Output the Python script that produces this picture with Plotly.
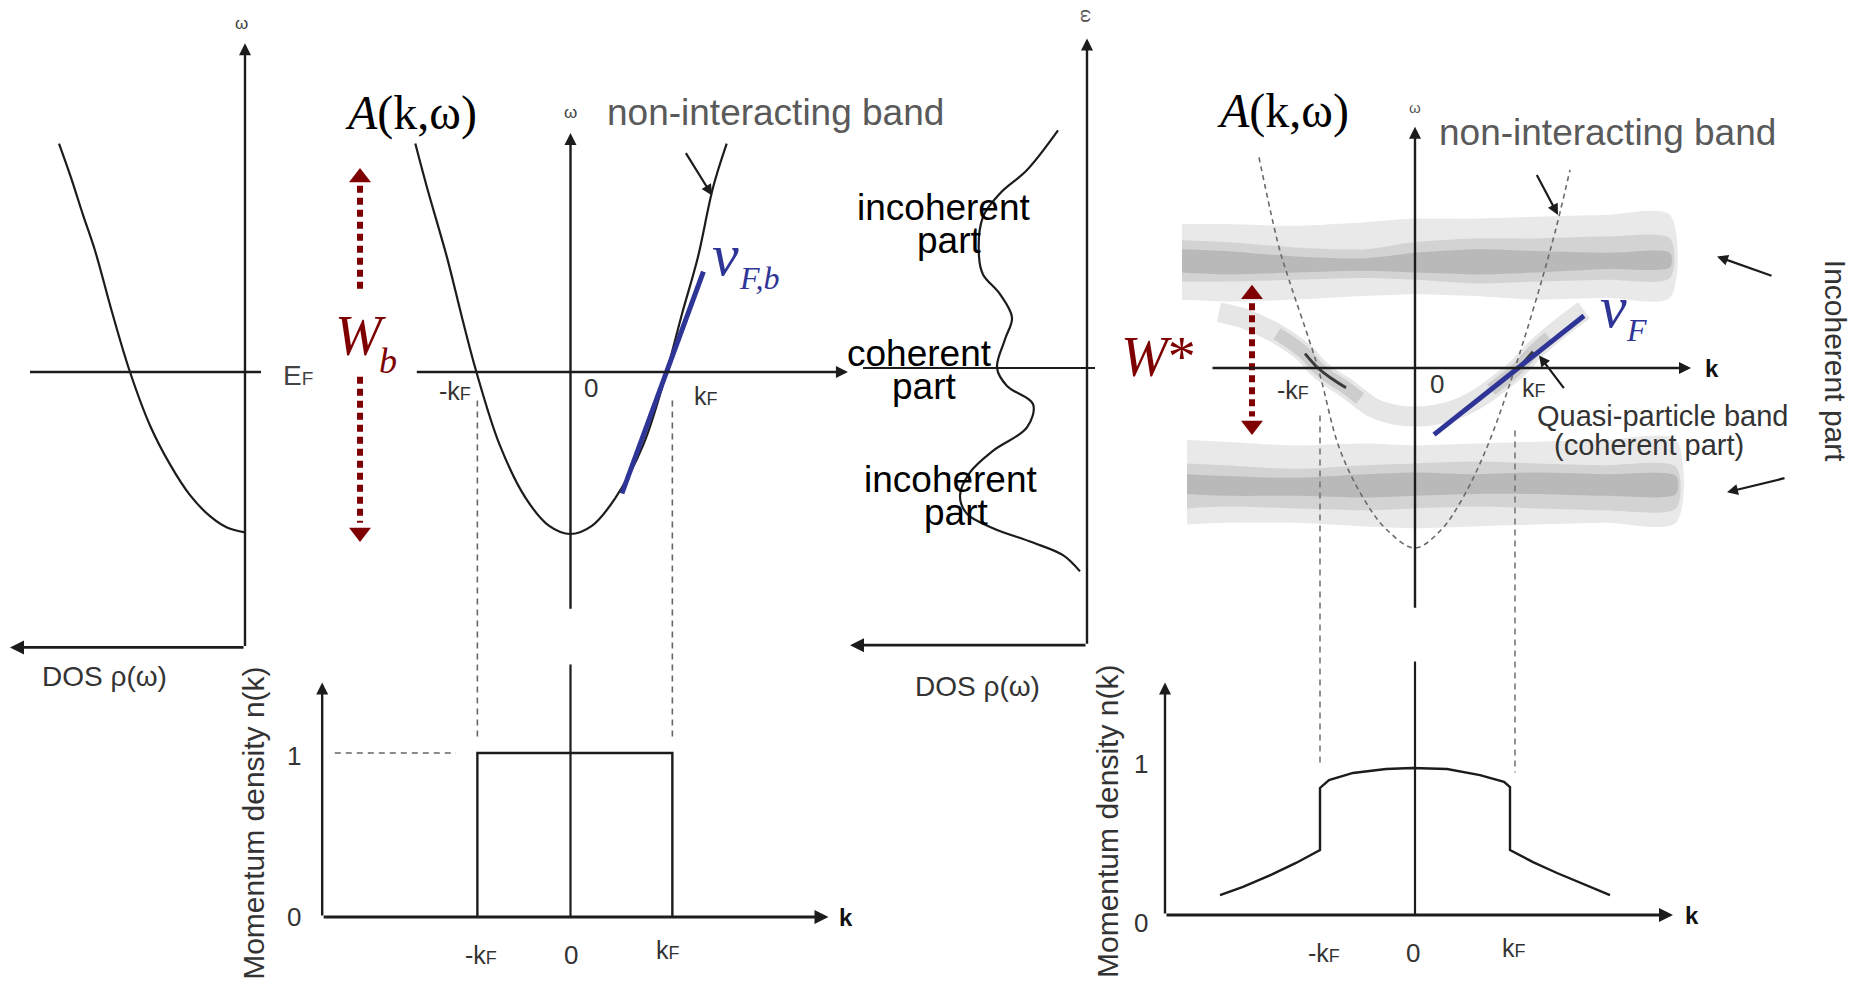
import plotly.graph_objects as go

W, H = 1856, 984

# ------------------------------------------------------------------ data
# Panel A: DOS of the non-interacting band (rho grows to the left), omega
dosA_rho = [1.86, 1.74, 1.62, 1.50, 1.33, 1.15, 0.95, 0.75, 0.55, 0.35, 0.18, 0.0]
dosA_w = [1.41, 1.20, 0.97, 0.75, 0.37, 0.0, -0.33, -0.57, -0.76, -0.89, -0.96, -0.99]

# Panel B: non-interacting band omega(k)
bandB_k = [-1.60, -1.48, -1.27, -1.12, -0.97, -0.73, -0.46, -0.22, 0.0,
           0.22, 0.46, 0.75, 0.99, 1.15, 1.31, 1.47, 1.61]
bandB_w = [1.41, 1.14, 0.70, 0.34, 0.0, -0.45, -0.78, -0.95, -1.0,
           -0.95, -0.78, -0.45, 0.0, 0.36, 0.70, 1.14, 1.41]
vFb_k = [0.53, 1.37]
vFb_w = [-0.75, 0.62]

# Panel C: interacting DOS (rho grows to the left), omega
dosC_rho = [0.29, 0.60, 0.87, 1.04, 1.08, 1.04, 0.87, 0.75, 0.82, 0.90, 0.80, 0.54,
            0.60, 0.94, 1.17, 1.27, 1.20, 0.94, 0.54, 0.24, 0.07]
dosC_w = [1.32, 1.10, 0.97, 0.84, 0.62, 0.52, 0.41, 0.28, 0.16, 0.0, -0.10, -0.20,
          -0.33, -0.46, -0.58, -0.71, -0.81, -0.89, -0.97, -1.04, -1.13]

# Panel D: non-interacting band (dashed)
bandD_k = [-1.56, -1.36, -1.26, -0.97, -0.76, -0.52, -0.28, 0.0, 0.26, 0.48, 0.72, 1.0, 1.36, 1.55]
bandD_w = [1.17, 0.67, 0.49, 0.0, -0.44, -0.72, -0.90, -1.0, -0.90, -0.72, -0.44, 0.0, 0.67, 1.10]

# Panel D: quasi-particle (coherent) band centre line
qp_k = [-1.96, -1.74, -1.52, -1.38, -1.24, -1.10, -0.97, -0.83, -0.69, -0.55, -0.42, -0.20,
        0.0, 0.20, 0.41, 0.60, 0.76, 0.90, 1.03, 1.18, 1.34, 1.52, 1.69]
qp_w = [0.31, 0.28, 0.23, 0.19, 0.14, 0.08, 0.0, -0.06, -0.11, -0.17, -0.22, -0.26,
        -0.27, -0.26, -0.23, -0.18, -0.12, -0.06, 0.0, 0.09, 0.17, 0.25, 0.32]
vF_k = [0.19, 1.69]
vF_w = [-0.37, 0.29]

# Panel D: incoherent (Hubbard-like) bands, three grey levels each
up_k = [-2.33, -1.9, -1.2, -0.5, 0.0, 0.6, 1.2, 1.9, 2.55]
up_outer_top = [0.80, 0.80, 0.79, 0.81, 0.83, 0.83, 0.84, 0.85, 0.85]
up_outer_bot = [0.38, 0.37, 0.38, 0.40, 0.41, 0.40, 0.38, 0.39, 0.39]
up_mid_top = [0.71, 0.70, 0.67, 0.66, 0.70, 0.72, 0.72, 0.73, 0.72]
up_mid_bot = [0.48, 0.48, 0.49, 0.50, 0.49, 0.47, 0.48, 0.49, 0.50]
up_core_top = [0.66, 0.65, 0.62, 0.61, 0.64, 0.66, 0.65, 0.64, 0.64]
up_core_bot = [0.53, 0.52, 0.53, 0.54, 0.53, 0.52, 0.53, 0.55, 0.56]

lo_k = [-2.28, -1.9, -1.2, -0.5, 0.0, 0.6, 1.2, 1.9, 2.61]
lo_outer_top = [-0.40, -0.41, -0.43, -0.42, -0.43, -0.42, -0.41, -0.40, -0.40]
lo_outer_bot = [-0.87, -0.86, -0.86, -0.88, -0.89, -0.88, -0.87, -0.86, -0.86]
lo_mid_top = [-0.53, -0.54, -0.56, -0.54, -0.53, -0.52, -0.53, -0.54, -0.55]
lo_mid_bot = [-0.78, -0.77, -0.78, -0.79, -0.78, -0.77, -0.78, -0.79, -0.78]
lo_core_top = [-0.59, -0.60, -0.61, -0.59, -0.58, -0.59, -0.58, -0.59, -0.60]
lo_core_bot = [-0.70, -0.71, -0.71, -0.72, -0.71, -0.70, -0.70, -0.71, -0.70]

# Panel E: momentum density, non-interacting (step)
kF_left_B, kF_right_B = -0.96, 1.05
nE_k = [kF_left_B, kF_left_B, kF_right_B, kF_right_B]
nE_n = [0.0, 1.0, 1.0, 0.0]

# Panel F: momentum density, interacting
nF_k = [-1.95, -1.72, -1.44, -1.19, -0.95, -0.95, -0.86, -0.62, -0.29, -0.03, 0.32, 0.65, 0.89,
        0.95, 0.95, 1.18, 1.42, 1.71, 1.95]
nF_n = [0.133, 0.187, 0.267, 0.347, 0.433, 0.847, 0.900, 0.947, 0.973, 0.980, 0.973, 0.933, 0.887,
        0.853, 0.433, 0.353, 0.280, 0.200, 0.133]
kF_left_D, kF_right_D = -0.95, 1.0

# ------------------------------------------------------------------ frames
# pixel origin and pixels-per-unit of each panel's data scale
XF = {'x': (245, 100, True), 'x2': (570.5, 97, False),
      'x3': (1087, 100, True), 'x4': (1415, 100, False)}
YF = {'y': (372, 162), 'y2': (368, 180), 'y3': (917, 164), 'y4': (915, 150)}

SANS = "Liberation Sans, Arial, sans-serif"
SERIF = "Liberation Serif, Times New Roman, serif"
INK = "#1c1c1c"
BLUE = "#2f3596"
RED = "#7f0000"

fig = go.Figure()


def line(xs, ys, xa, ya, color=INK, width=2.2, dash=None, shape='linear'):
    fig.add_trace(go.Scatter(x=xs, y=ys, xaxis=xa, yaxis=ya, mode='lines',
                             line=dict(color=color, width=width, dash=dash, shape=shape),
                             hoverinfo='skip', showlegend=False))


def poly(xs, ys, xa, ya, color):
    fig.add_trace(go.Scatter(x=xs, y=ys, xaxis=xa, yaxis=ya, mode='lines', fill='toself',
                             fillcolor=color, line=dict(width=0, shape='spline', smoothing=0.8),
                             hoverinfo='skip', showlegend=False))


def marker(x, y, xa, ya, symbol, size, color):
    fig.add_trace(go.Scatter(x=[x], y=[y], xaxis=xa, yaxis=ya, mode='markers',
                             marker=dict(symbol=symbol, size=size, color=color, line=dict(width=0)),
                             hoverinfo='skip', showlegend=False))


ann = []


def arrow(x, y, ax, ay, xa, ya, color=INK, width=2.4, size=1.0, head=2):
    ann.append(dict(x=x, y=y, ax=ax, ay=ay, xref=xa, yref=ya, axref=xa, ayref=ya,
                    showarrow=True, arrowhead=head, arrowsize=size, arrowwidth=width,
                    arrowcolor=color, text='', standoff=0, startstandoff=0))


def label(text, x, y, xa, ya, size, color=INK, family=SANS, angle=0, xanchor='center'):
    ann.append(dict(x=x, y=y, xref=xa, yref=ya, text=text, showarrow=False,
                    font=dict(size=size, color=color, family=family), textangle=angle,
                    xanchor=xanchor, yanchor='middle', borderpad=0))


def small_f(base, fsize):
    return f'{base}<span style="font-size:{fsize}px">F</span>'


# ------------------------------------------------------------------ Panel A
line(dosA_rho, dosA_w, 'x', 'y', shape='spline')
line([2.15, -0.16], [0, 0], 'x', 'y', width=2.4)                 # E_F line
arrow(0, 2.03, 0, -1.70, 'x', 'y')                                # omega axis
arrow(2.35, -1.70, 0, -1.70, 'x', 'y', width=2.8)                 # DOS axis
label('ω', 0.04, 2.15, 'x', 'y', 17, '#444')
label(small_f('E', 19), -0.53, -0.02, 'x', 'y', 28, '#444')
label('DOS ρ(ω)', 1.41, -1.88, 'x', 'y', 28, '#333')

# ------------------------------------------------------------------ Panel B
line(bandB_k, bandB_w, 'x2', 'y', shape='spline')
arrow(0, 1.475, 0, -1.47, 'x2', 'y')
arrow(2.86, 0, -1.60, 0, 'x2', 'y')
line(vFb_k, vFb_w, 'x2', 'y', color=BLUE, width=5)
label('ω', 0, 1.60, 'x2', 'y', 17, '#444')
label('<i>A</i>(k,ω)', -1.64, 1.60, 'x2', 'y', 48, '#000', SERIF)
label('non-interacting band', 2.11, 1.60, 'x2', 'y', 37, '#5a5a5a')
arrow(1.46, 1.09, 1.18, 1.36, 'x2', 'y', width=2.2)
label('-' + small_f('k', 18), -1.19, -0.12, 'x2', 'y', 25, '#333')
label('0', 0.21, -0.10, 'x2', 'y', 26, '#333')
label(small_f('k', 18), 1.40, -0.15, 'x2', 'y', 25, '#333')
label('<i>v</i>', 1.60, 0.72, 'x2', 'y', 60, BLUE, SERIF)
label('<i>F,b</i>', 1.94, 0.58, 'x2', 'y', 32, BLUE, SERIF)
# bandwidth W_b
label('<i>W</i>', -2.16, 0.22, 'x2', 'y', 56, RED, SERIF)
label('<i>b</i>', -1.88, 0.07, 'x2', 'y', 36, RED, SERIF)
line([-2.17, -2.17], [1.15, 0.50], 'x2', 'y', color=RED, width=6, dash='7px,5px')
line([-2.17, -2.17], [-0.03, -0.93], 'x2', 'y', color=RED, width=6, dash='7px,5px')
marker(-2.17, 1.20, 'x2', 'y', 'triangle-up', 19, RED)
marker(-2.17, -0.99, 'x2', 'y', 'triangle-down', 19, RED)

# ------------------------------------------------------------------ Panel C
line(dosC_rho, dosC_w, 'x3', 'y2', shape='spline')
line([2.24, -0.08], [0, 0], 'x3', 'y2', width=2.2)
arrow(0, 1.83, 0, -1.54, 'x3', 'y2')
arrow(2.37, -1.54, 0, -1.54, 'x3', 'y2', width=2.8)
label('ω', 0, 1.96, 'x3', 'y2', 17, '#444', angle=90)
label('DOS ρ(ω)', 1.10, -1.77, 'x3', 'y2', 28, '#333')
label('incoherent', 1.43, 0.89, 'x3', 'y2', 37, '#000')
label('part', 1.38, 0.71, 'x3', 'y2', 37, '#000')
label('coherent', 1.68, 0.08, 'x3', 'y2', 37, '#000')
label('part', 1.63, -0.10, 'x3', 'y2', 37, '#000')
label('incoherent', 1.36, -0.62, 'x3', 'y2', 37, '#000')
label('part', 1.31, -0.80, 'x3', 'y2', 37, '#000')

# ------------------------------------------------------------------ Panel D
for kk, top, bot, col in [(up_k, up_outer_top, up_outer_bot, '#e9e9e9'),
                          (up_k, up_mid_top, up_mid_bot, '#d3d3d3'),
                          (up_k, up_core_top, up_core_bot, '#b9b9b9'),
                          (lo_k, lo_outer_top, lo_outer_bot, '#e9e9e9'),
                          (lo_k, lo_mid_top, lo_mid_bot, '#d3d3d3'),
                          (lo_k, lo_core_top, lo_core_bot, '#b9b9b9')]:
    poly(kk + kk[::-1], top + bot[::-1], 'x4', 'y2', col)

# quasi-particle band: light body, darker near k_F
line(qp_k, qp_w, 'x4', 'y2', color='#e6e6e6', width=20, shape='spline')
line(qp_k[3:10], qp_w[3:10], 'x4', 'y2', color='#cdcdcd', width=13, shape='spline')
line(qp_k[16:21], qp_w[16:21], 'x4', 'y2', color='#cdcdcd', width=13, shape='spline')
line(qp_k[5:9], qp_w[5:9], 'x4', 'y2', color='#3a3a3a', width=3, shape='spline')
line(qp_k[17:20], qp_w[17:20], 'x4', 'y2', color='#3a3a3a', width=3, shape='spline')

line(bandD_k, bandD_w, 'x4', 'y2', color='#6a6a6a', width=1.6, dash='5px,4px', shape='spline')
arrow(0, 1.34, 0, -1.34, 'x4', 'y2')
arrow(2.76, 0, -2.04, 0, 'x4', 'y2')
line(vF_k, vF_w, 'x4', 'y2', color=BLUE, width=5)

label('ω', 0, 1.45, 'x4', 'y2', 15, '#555')
label('<b>k</b>', 2.97, 0.0, 'x4', 'y2', 24, '#111')
label('<i>A</i>(k,ω)', -1.32, 1.43, 'x4', 'y2', 48, '#000', SERIF)
label('non-interacting band', 1.92, 1.31, 'x4', 'y2', 37, '#5a5a5a')
arrow(1.43, 0.85, 1.21, 1.08, 'x4', 'y2', width=2.2)
label('-' + small_f('k', 18), -1.22, -0.12, 'x4', 'y2', 25, '#333')
label('0', 0.22, -0.09, 'x4', 'y2', 26, '#333')
label(small_f('k', 18), 1.19, -0.11, 'x4', 'y2', 25, '#333')
label('<i>v</i>', 1.98, 0.34, 'x4', 'y2', 60, BLUE, SERIF)
label('<i>F</i>', 2.21, 0.21, 'x4', 'y2', 32, BLUE, SERIF)
label('<i>W</i>*', -2.57, 0.06, 'x4', 'y2', 56, RED, SERIF)
line([-1.63, -1.63], [0.36, -0.27], 'x4', 'y2', color=RED, width=6, dash='7px,5px')
marker(-1.63, 0.41, 'x4', 'y2', 'triangle-up', 19, RED)
marker(-1.63, -0.32, 'x4', 'y2', 'triangle-down', 19, RED)
label('Quasi-particle band', 2.47, -0.265, 'x4', 'y2', 29, '#333')
label('(coherent part)', 2.34, -0.425, 'x4', 'y2', 29, '#333')
arrow(1.24, 0.07, 1.50, -0.12, 'x4', 'y2', width=2.2)
label('Incoherent part', 4.20, 0.04, 'x4', 'y2', 30, '#333', angle=90)
arrow(3.02, 0.62, 3.58, 0.51, 'x4', 'y2', width=2.2)
arrow(3.12, -0.69, 3.71, -0.61, 'x4', 'y2', width=2.2)

# ------------------------------------------------------------------ Panel E
line([kF_left_B, kF_left_B], [3.15, 1.08], 'x2', 'y3', color='#666', width=1.6, dash='6px,5px')
line([kF_right_B, kF_right_B], [3.15, 1.08], 'x2', 'y3', color='#666', width=1.6, dash='6px,5px')
line([-2.43, -1.18], [1.0, 1.0], 'x2', 'y3', color='#666', width=1.6, dash='6px,5px')
line(nE_k, nE_n, 'x2', 'y3', width=2.4)
line([0, 0], [0, 1.54], 'x2', 'y3', width=2.2)
arrow(-2.56, 1.43, -2.56, 0, 'x2', 'y3')
arrow(2.66, 0, -2.56, 0, 'x2', 'y3', width=2.8)
label('1', -2.85, 0.98, 'x2', 'y3', 26, '#333')
label('0', -2.85, 0.0, 'x2', 'y3', 26, '#333')
label('-' + small_f('k', 18), -0.92, -0.23, 'x2', 'y3', 25, '#333')
label('0', 0.0, -0.23, 'x2', 'y3', 26, '#333')
label(small_f('k', 18), 1.01, -0.20, 'x2', 'y3', 25, '#333')
label('<b>k</b>', 2.84, 0.0, 'x2', 'y3', 24, '#111')
label('Momentum density n(k)', -3.27, 0.57, 'x2', 'y3', 30, '#333', angle=-90)

# ------------------------------------------------------------------ Panel F
line([kF_left_D, kF_left_D], [3.33, 1.01], 'x4', 'y4', color='#777', width=1.6, dash='6px,5px')
line([kF_right_D, kF_right_D], [3.23, 0.95], 'x4', 'y4', color='#777', width=1.6, dash='6px,5px')
line(nF_k, nF_n, 'x4', 'y4', width=2.4)
line([0, 0], [0, 1.69], 'x4', 'y4', width=2.2)
arrow(-2.5, 1.55, -2.5, 0, 'x4', 'y4')
arrow(2.58, 0, -2.5, 0, 'x4', 'y4', width=2.8)
label('1', -2.74, 1.01, 'x4', 'y4', 26, '#333')
label('0', -2.74, -0.05, 'x4', 'y4', 26, '#333')
label('-' + small_f('k', 18), -0.91, -0.25, 'x4', 'y4', 25, '#333')
label('0', -0.02, -0.25, 'x4', 'y4', 26, '#333')
label(small_f('k', 18), 0.99, -0.22, 'x4', 'y4', 25, '#333')
label('<b>k</b>', 2.77, 0.0, 'x4', 'y4', 24, '#111')
label('Momentum density n(k)', -3.08, 0.62, 'x4', 'y4', 30, '#333', angle=-90)

# ------------------------------------------------------------------ layout
layout = dict(width=W, height=H, margin=dict(l=0, r=0, t=0, b=0),
              paper_bgcolor='white', plot_bgcolor='rgba(0,0,0,0)',
              showlegend=False, annotations=ann, hovermode=False)
for name, (x0, s, rev) in XF.items():
    rng = [x0 / s, (x0 - W) / s] if rev else [-x0 / s, (W - x0) / s]
    key = 'xaxis' if name == 'x' else 'xaxis' + name[1:]
    ax = dict(range=rng, domain=[0, 1], visible=False, fixedrange=True)
    if name != 'x':
        ax['overlaying'] = 'x'
    layout[key] = ax
for name, (y0, s) in YF.items():
    key = 'yaxis' if name == 'y' else 'yaxis' + name[1:]
    ax = dict(range=[(y0 - H) / s, y0 / s], domain=[0, 1], visible=False, fixedrange=True)
    if name != 'y':
        ax['overlaying'] = 'y'
    layout[key] = ax
fig.update_layout(**layout)
fig.write_html("out.html")
